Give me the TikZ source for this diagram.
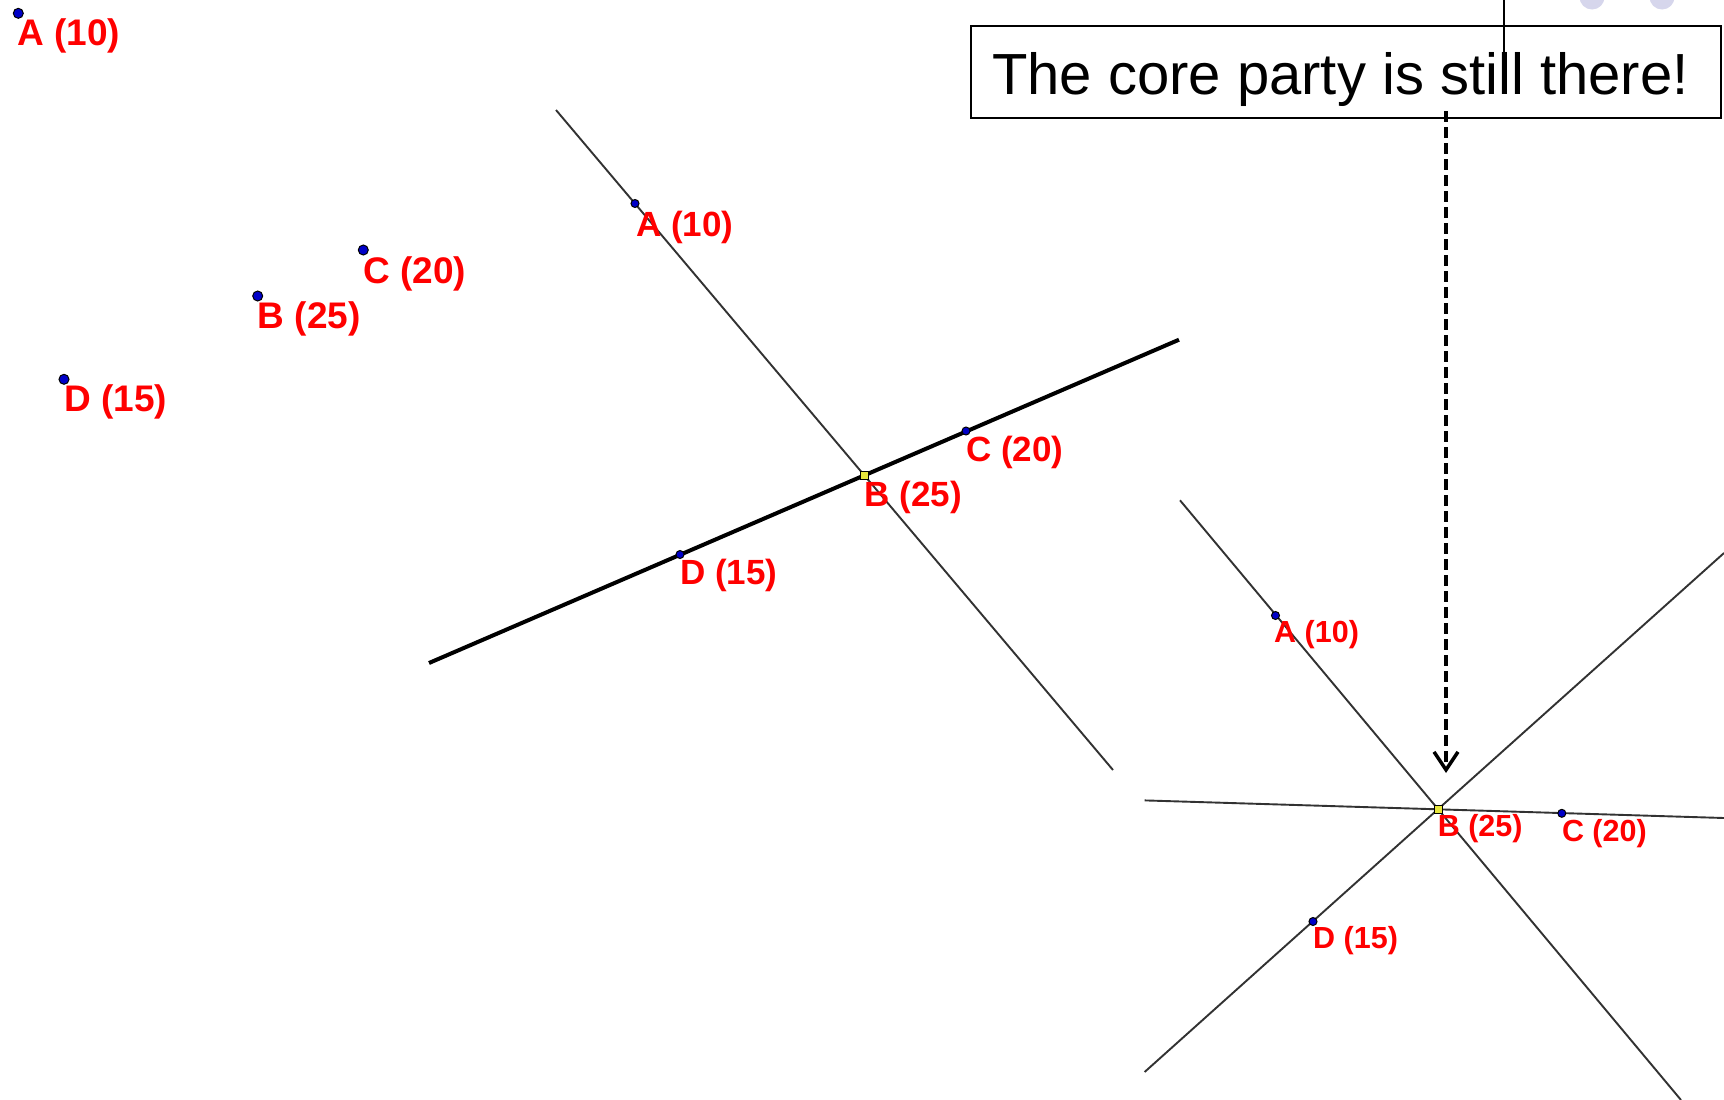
\documentclass[tikz,border=0pt]{standalone}
\usepackage{fontspec}
\setmainfont{Liberation Sans}
\usetikzlibrary{arrows.meta}
\definecolor{lblred}{RGB}{255,0,0}
\definecolor{ptblue}{RGB}{0,0,200}
\definecolor{ptyellow}{RGB}{230,230,60}
\definecolor{linegray}{RGB}{50,50,50}
\definecolor{lavender}{RGB}{214,214,236}
\tikzset{
  bigpt/.style={circle,draw=black,fill=ptblue,line width=1pt,inner sep=0pt,minimum size=10pt},
  smallpt/.style={circle,draw=black,fill=ptblue,line width=1pt,inner sep=0pt,minimum size=8pt},
  midpt/.style={rectangle,draw=black,fill=ptyellow,line width=1pt,inner sep=0pt,minimum size=8pt},
  lblbig/.style={anchor=west,inner sep=0pt,text=lblred,font=\fontsize{37}{40}\selectfont\bfseries},
  lblmid/.style={anchor=west,inner sep=0pt,text=lblred,font=\fontsize{35}{38}\selectfont\bfseries},
  lblsmall/.style={anchor=west,inner sep=0pt,text=lblred,font=\fontsize{30.5}{33}\selectfont\bfseries},
  thinline/.style={draw=linegray,line width=1.9pt},
  thickline/.style={draw=black,line width=4pt},
  callout/.style={draw=black,line width=1.6pt,inner sep=0pt,minimum width=750pt,minimum height=92pt},
  dasharrow/.style={draw=black,line width=3.5pt,dash pattern=on 11pt off 5pt,-{Straight Barb[length=18pt,width=24pt,line width=3.5pt]}}
}
\begin{document}
\begin{tikzpicture}[x=1pt,y=-1pt]
\useasboundingbox (0,0) rectangle (1724,1100);
\clip (0,0) rectangle (1724,1100);
\fill[white] (0,0) rectangle (1724,1100);

% decorative circles at top right
\fill[lavender] (1592,-3) circle (12.5);
\fill[lavender] (1662,-3) circle (12.5);

% ---------- left panel ----------
\node[bigpt] (lA) at (18.3,13.3) {};
\node[bigpt] (lC) at (363.3,250) {};
\node[bigpt] (lB) at (257.7,296) {};
\node[bigpt] (lD) at (64,379.3) {};
\node[lblbig] (lAl) at (17,35.5) {A (10)};
\node[lblbig] (lCl) at (363,274) {C (20)};
\node[lblbig] (lBl) at (257.7,319) {B (25)};
\node[lblbig] (lDl) at (64.3,401.7) {D (15)};

% ---------- middle panel ----------
\coordinate (m1s) at (556,110);
\coordinate (m1e) at (1113,770);
\coordinate (m2s) at (429,663);
\coordinate (m2e) at (1179,339.7);
\draw[thinline] (m1s) -- (m1e);
\draw[thickline] (m2s) -- (m2e);
\node[smallpt] (mA) at (635,203.5) {};
\node[smallpt] (mC) at (966,431) {};
\node[smallpt] (mD) at (680,554.5) {};
\node[midpt] (mB) at (864.2,475) {};
\node[lblmid] (mAl) at (636,227.5) {A (10)};
\node[lblmid] (mCl) at (966,452.5) {C (20)};
\node[lblmid] (mBl) at (864.6,497.5) {B (25)};
\node[lblmid] (mDl) at (680,575.5) {D (15)};

% ---------- right panel ----------
\coordinate (r1s) at (1180,500.3);
\coordinate (r1e) at (1681,1100);
\coordinate (r2s) at (1144.6,1072);
\coordinate (r2e) at (1724,553);
\coordinate (r3s) at (1144.6,800.4);
\coordinate (r3e) at (1724,818);
\draw[thinline] (r1s) -- (r1e);
\draw[thinline] (r2s) -- (r2e);
\draw[thinline] (r3s) -- (r3e);
\node[smallpt] (rA) at (1275.5,615.5) {};
\node[smallpt] (rC) at (1561.8,813.3) {};
\node[smallpt] (rD) at (1313,921.5) {};
\node[midpt] (rB) at (1438,809.2) {};
\node[lblsmall] (rAl) at (1274,635) {A (10)};
\node[lblsmall] (rBl) at (1437.6,828.3) {B (25)};
\node[lblsmall] (rCl) at (1561.8,833.3) {C (20)};
\node[lblsmall] (rDl) at (1313,941) {D (15)};

% ---------- callout ----------
\node[callout] (box) at (1346,72) {};
\node[anchor=base west,inner sep=0pt,font=\fontsize{58}{62}\selectfont] (boxtext) at (992,94) {The core party is still there!};
\coordinate (vtop) at (1504,0);
\coordinate (vbot) at (1504,65);
\draw[draw=black,line width=1.6pt] (vtop) -- (vbot);
\coordinate (tip) at (1446,773);
\coordinate (dstart) at (1446,111);
\draw[dasharrow] (dstart) -- (tip);
\end{tikzpicture}
\end{document}
